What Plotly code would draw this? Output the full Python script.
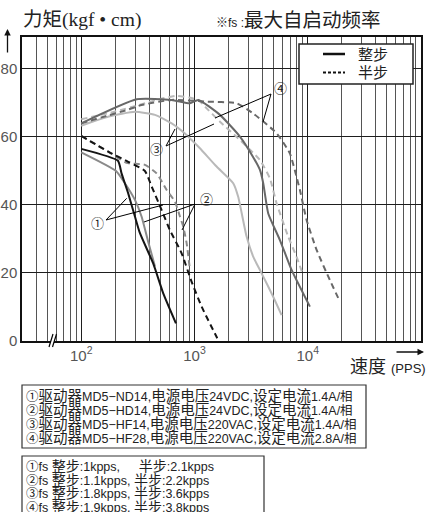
import math
import plotly.graph_objects as go

# ---------------- data (speed in PPS, torque in kgf·cm) ----------------
# ① MD5-ND14
s1_full_pps = [100, 211, 227, 260, 298, 330, 432, 530, 686]
s1_full_tq = [56.5, 53.0, 49.3, 43.4, 36.6, 31.7, 22.8, 14.0, 5.2]
s1_half_pps = [100, 173, 260, 365, 419, 513, 607, 770, 944, 1157, 1590]
s1_half_tq = [60.3, 55.7, 52.7, 50.0, 45.4, 38.5, 32.6, 25.8, 17.4, 10.1, 0.8]
# ② MD5-HD14
s2_full_pps = [100, 203, 243, 298, 341, 388, 448]
s2_full_tq = [55.5, 50.0, 46.4, 41.5, 36.6, 29.5, 21.9]
s2_half_pps = [100, 173, 250, 365, 463, 568, 672, 744, 796, 853, 911]
s2_half_tq = [60.3, 55.7, 52.4, 51.8, 49.3, 44.4, 41.0, 36.6, 33.6, 28.7, 21.0]
# ③ MD5-HF14
s3_full_pps = [100, 175, 298, 448, 629, 824, 944, 1117, 1568, 2198, 2432, 2886, 3300, 3917, 4955, 5877]
s3_full_tq = [63.3, 66.0, 67.4, 66.5, 64.0, 61.0, 59.1, 56.7, 51.3, 46.4, 42.4, 30.7, 24.8, 19.9, 13.0, 7.6]
s3_half_pps = [100, 200, 330, 500, 700, 900, 1080, 1240, 1680, 2520, 3784, 4634, 5310, 6720, 7960, 8990]
s3_half_tq = [65.2, 67.5, 69.5, 71.2, 72.1, 71.6, 70.9, 68.9, 64.5, 59.1, 53.2, 47.8, 40.5, 30.7, 24.8, 19.9]
# ④ MD5-HF28
s4_full_pps = [100, 309, 629, 912, 1080, 1678, 2520, 3280, 3784, 4046, 4480, 5680, 7200, 10450]
s4_full_tq = [64.0, 71.1, 70.9, 69.9, 70.9, 66.5, 60.1, 54.2, 50.3, 46.4, 37.5, 29.7, 20.9, 10.1]
s4_half_pps = [100, 168, 252, 341, 629, 1280, 2355, 3300, 5310, 6950, 7960, 8530, 9770, 11970, 15680, 18930]
s4_half_tq = [64.0, 66.2, 67.9, 69.4, 70.9, 70.4, 69.9, 66.9, 61.1, 55.2, 48.3, 44.4, 35.6, 26.8, 17.9, 12.1]

y_ticks = [0, 20, 40, 60, 80]
x_major = [100, 1000, 10000]
x_major_text = ["10<sup>2</sup>", "10<sup>3</sup>", "10<sup>4</sup>"]
x_minor = [m * 10 ** e for e in range(1, 5) for m in range(2, 10) if 30 < m * 10 ** e < 100000] + [100000]

legend_labels = ["整步", "半步"]
driver_lines = [
    ("①", "MD5−ND14", "24VDC", "1.4A"),
    ("②", "MD5−HD14", "24VDC", "1.4A"),
    ("③", "MD5−HF14", "220VAC", "1.4A"),
    ("④", "MD5−HF28", "220VAC", "2.8A"),
]
fs_lines = [
    ("①", "1kpps,\u2003\u2002", "2.1kpps"),
    ("②", "1.1kpps, ", "2.2kpps"),
    ("③", "1.8kpps, ", "3.6kpps"),
    ("④", "1.9kpps, ", "3.8kpps"),
]

# ---------------- figure geometry ----------------
W, H = 430, 512
L, R, T, B = 22, 421, 37, 341


def px(x):
    return (x - L) / (R - L)


def py(y):
    return (B - y) / (B - T)


C1, C2, C3, C4 = "#141414", "#8a8a8a", "#b9b9b9", "#686868"
DASH = "6px,4px"

fig = go.Figure()
series = [
    (s3_half_pps, s3_half_tq, C3, DASH),
    (s3_full_pps, s3_full_tq, C3, "solid"),
    (s4_half_pps, s4_half_tq, C4, DASH),
    (s4_full_pps, s4_full_tq, C4, "solid"),
    (s2_half_pps, s2_half_tq, C2, DASH),
    (s2_full_pps, s2_full_tq, C2, "solid"),
    (s1_half_pps, s1_half_tq, C1, DASH),
    (s1_full_pps, s1_full_tq, C1, "solid"),
]
for xs, ys, col, dash in series:
    fig.add_trace(go.Scatter(x=xs, y=ys, mode="lines",
                             line=dict(color=col, width=2, dash=dash, shape="spline", smoothing=0.5),
                             hoverinfo="skip", showlegend=False))

shapes = []
annos = []


def seg(x0, y0, x1, y1, w=1, col="black"):
    shapes.append(dict(type="line", xref="paper", yref="paper", x0=px(x0), y0=py(y0),
                       x1=px(x1), y1=py(y1), line=dict(color=col, width=w), layer="above"))


def txt(x, y, s, size=14, anchor="center", fam="Liberation Sans, Noto Sans CJK SC", col="#222"):
    annos.append(dict(x=px(x), y=py(y), xref="paper", yref="paper", text=s, showarrow=False,
                      xanchor=anchor, yanchor="middle", align="left",
                      font=dict(size=size, family=fam, color=col)))


# callouts
txt(97, 224, "①", 13)
seg(106, 220, 126.7, 198.3)
seg(106, 220, 163, 205)
txt(206, 200, "②", 13)
seg(195, 204, 144, 222)
seg(195, 204, 182, 230)
txt(156, 149, "③", 13)
seg(166, 146, 175, 129)
seg(166, 146, 214, 124)
txt(280, 88, "④", 13)
seg(271, 94, 215, 118)
seg(271, 94, 263, 122)

# axis break mark
shapes.append(dict(type="path", xref="paper", yref="paper",
                   path=f"M {px(49)},{py(347)} L {px(53)},{py(334)} L {px(56.5)},{py(334)} L {px(52.5)},{py(347)} Z",
                   fillcolor="white", line=dict(width=0), layer="above"))
seg(49, 347, 53, 334, 1.2)
seg(52.5, 347, 56.5, 334, 1.2)

# legend box
shapes.append(dict(type="rect", xref="paper", yref="paper", x0=px(299), y0=py(44), x1=px(413), y1=py(84),
                   fillcolor="white", line=dict(color="#222", width=1.5), layer="above"))
seg(323, 54, 345, 54, 2.5, "#111")
shapes.append(dict(type="line", xref="paper", yref="paper", x0=px(323), y0=py(72.5), x1=px(345), y1=py(72.5),
                   line=dict(color="#111", width=2, dash="3px,2px"), layer="above"))
txt(356, 54, legend_labels[0], 15, "left")
txt(356, 72, legend_labels[1], 15, "left")

# titles
txt(21, 20, "力矩(kgf • cm)", 19.5, "left", "Liberation Serif, Noto Sans CJK SC")
txt(214, 20, "<span style='font-size:12px'>※fs :</span>最大自启动频率", 19.5, "left",
    "Liberation Sans, Noto Sans CJK SC")

# axis arrows
annos.append(dict(x=px(7.5), y=py(29), xref="paper", yref="paper", ax=0, ay=25, text="",
                  showarrow=True, arrowhead=2, arrowsize=1, arrowwidth=1.3, arrowcolor="#111"))
annos.append(dict(x=px(424), y=py(352), xref="paper", yref="paper", ax=-29, ay=0, text="",
                  showarrow=True, arrowhead=2, arrowsize=1, arrowwidth=1.3, arrowcolor="#111"))
txt(428, 367, "速度 <span style='font-size:13px'>(PPS)</span>", 18, "right")

# driver box (one multi-line text block)
shapes.append(dict(type="rect", xref="paper", yref="paper", x0=px(22), y0=py(385), x1=px(366), y1=py(448),
                   fillcolor="rgba(0,0,0,0)", line=dict(color="#333", width=1.2), layer="above"))
drv = []
for n, model, volt, cur in driver_lines:
    drv.append(f"<span style='font-size:12.5px'>{n}</span>"
               f"<span style='font-size:14.5px'>驱动器</span>"
               f"<span style='font-size:12.5px'>{model},</span>"
               f"<span style='font-size:14.5px'>电源电压</span>"
               f"<span style='font-size:12.5px'>{volt},</span>"
               f"<span style='font-size:14.5px'>设定电流</span>"
               f"<span style='font-size:12.5px'>{cur}/相</span>")
txt(24, 417, "<br>".join(drv), 14 / 1.3, "left")

# fs box
shapes.append(dict(type="rect", xref="paper", yref="paper", x0=px(22), y0=py(456), x1=px(264), y1=py(530),
                   fillcolor="rgba(0,0,0,0)", line=dict(color="#333", width=1.2), layer="above"))
fsl = []
for n, f1, f2 in fs_lines:
    fsl.append(f"<span style='font-size:12.5px'>{n}fs </span>"
               f"<span style='font-size:14px'>整步</span>"
               f"<span style='font-size:12.5px'>:{f1}</span>"
               f"<span style='font-size:14px'>半步</span>"
               f"<span style='font-size:12.5px'>:{f2}</span>")
txt(24, 486.4, "<br>".join(fsl), 13.6 / 1.3, "left")

fig.update_layout(
    width=W, height=H,
    margin=dict(l=L, r=W - R, t=T, b=H - B, pad=0, autoexpand=False),
    paper_bgcolor="white", plot_bgcolor="white",
    shapes=shapes, annotations=annos,
    xaxis=dict(type="log", range=[math.log10(30), 5], tickvals=x_major, ticktext=x_major_text,
               automargin=False,
               showgrid=True, gridcolor="#1e1e1e", gridwidth=1,
               minor=dict(tickvals=x_minor, showgrid=True, gridcolor="#555", gridwidth=1, ticks=""),
               showline=True, linecolor="#111", linewidth=1.5, mirror=True, ticks="", zeroline=False,
               tickfont=dict(size=15, family="Liberation Sans", color="#555")),
    yaxis=dict(range=[0, 89.4], tickvals=y_ticks, showgrid=True, gridcolor="#1e1e1e", gridwidth=1,
               automargin=False,
               showline=True, linecolor="#111", linewidth=1.5, mirror=True, ticks="", zeroline=False,
               tickfont=dict(size=15, family="Liberation Sans", color="#555")),
)

fig.write_html("out.html", config={"displayModeBar": False},
               post_script="document.body.style.margin='0';document.body.style.overflow='hidden';")
